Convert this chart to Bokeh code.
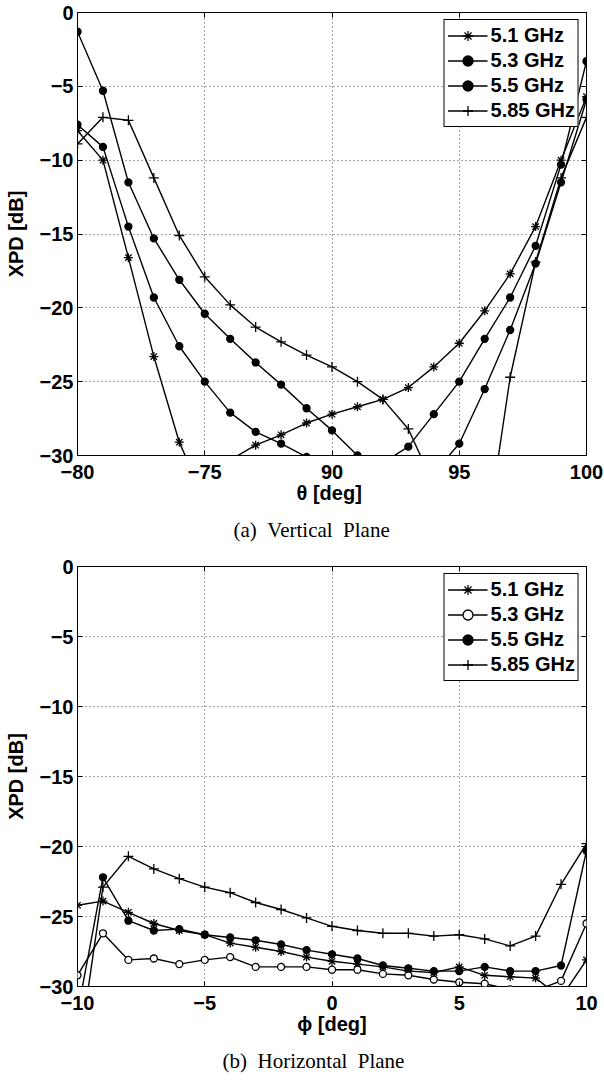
from bokeh.plotting import figure
from bokeh.models import Range1d, LinearAxis, FixedTicker, Legend, LegendItem, Title
from bokeh.layouts import column
from bokeh.embed import file_html
from bokeh.resources import INLINE

# ---------------- data: (a) vertical plane ----------------
theta = [80, 81, 82, 83, 84, 85, 86, 87, 88, 89, 90, 91, 92, 93, 94, 95, 96, 97, 98, 99, 100]
theta_tick_values = [80, 85, 90, 95, 100]
theta_tick_labels = ["\u221280", "\u221275", "90", "95", "100"]
v_51 = [-8.0, -10.0, -16.6, -23.3, -29.1, -33.0, -30.3, -29.3, -28.6, -27.8, -27.2, -26.7, -26.2, -25.4, -24.0, -22.4, -20.2, -17.7, -14.5, -10.0, -5.7]
v_53 = [-1.3, -5.3, -11.5, -15.3, -18.1, -20.4, -22.1, -23.7, -25.2, -26.8, -28.3, -30.0, -30.5, -29.4, -27.2, -25.0, -22.1, -19.3, -15.8, -10.3, -3.3]
v_55 = [-7.6, -9.1, -14.5, -19.3, -22.6, -25.0, -27.1, -28.4, -29.2, -30.1, -31.0, -31.8, -32.3, -32.0, -31.2, -29.2, -25.5, -21.5, -17.0, -11.5, -5.9]
v_585 = [-8.9, -7.1, -7.3, -11.2, -15.1, -17.9, -19.8, -21.3, -22.3, -23.2, -24.0, -25.0, -26.2, -28.2, -32.0, -35.0, -36.3, -24.7, -16.9, -11.2, -7.1]

# ---------------- data: (b) horizontal plane ----------------
phi = [-10, -9, -8, -7, -6, -5, -4, -3, -2, -1, 0, 1, 2, 3, 4, 5, 6, 7, 8, 9, 10]
phi_tick_values = [-10, -5, 0, 5, 10]
phi_tick_labels = ["\u221210", "\u22125", "0", "5", "10"]
h_51 = [-24.2, -23.9, -24.7, -25.5, -26.0, -26.3, -26.9, -27.2, -27.5, -27.9, -28.2, -28.4, -28.6, -28.9, -29.0, -28.6, -29.2, -29.3, -29.4, -30.8, -28.1]
h_53 = [-29.2, -26.2, -28.1, -28.0, -28.4, -28.1, -27.9, -28.6, -28.6, -28.6, -28.8, -28.8, -29.1, -29.2, -29.5, -29.7, -29.8, -30.2, -30.3, -29.6, -25.5]
h_55 = [-31.9, -22.2, -25.3, -26.0, -25.9, -26.3, -26.5, -26.7, -27.0, -27.4, -27.7, -28.0, -28.5, -28.7, -28.9, -28.9, -28.6, -28.9, -28.9, -28.5, -20.3]
h_585 = [-35.4, -22.9, -20.7, -21.6, -22.3, -22.9, -23.3, -24.0, -24.5, -25.1, -25.7, -26.0, -26.2, -26.2, -26.4, -26.3, -26.6, -27.1, -26.4, -22.7, -19.8]

y_tick_values = [0, -5, -10, -15, -20, -25, -30]
y_tick_labels = ["0", "\u22125", "\u221210", "\u221215", "\u221220", "\u221225", "\u221230"]
series_labels = ["5.1 GHz", "5.3 GHz", "5.5 GHz", "5.85 GHz"]

FONT = "Liberation Sans"


def style_axis(ax, labels_visible=True):
    ax.axis_line_color = None
    ax.major_tick_in = 5
    ax.major_tick_out = 0
    ax.major_tick_line_color = "black"
    ax.major_tick_line_width = 1
    ax.minor_tick_line_color = None
    if labels_visible:
        ax.major_label_text_font = FONT
        ax.major_label_text_font_style = "bold"
        ax.major_label_text_font_size = "20px"
        ax.major_label_text_color = "black"
        ax.axis_label_text_font = FONT
        ax.axis_label_text_font_style = "bold"
        ax.axis_label_text_font_size = "20px"
        ax.axis_label_text_color = "black"
    else:
        ax.major_label_text_font_size = "1px"
        ax.major_label_text_color = None
        ax.major_label_standoff = 0


def make_panel(xs, series, markers, xlim, xticks, xlabels, xlabel, caption,
               cap_offset, height, frame_h, top):
    bottom = height - top - frame_h
    p = figure(width=604, height=height, x_range=Range1d(*xlim), y_range=Range1d(-30, 0),
               output_backend="svg", toolbar_location=None,
               min_border_left=77, min_border_right=18, min_border_top=top,
               min_border_bottom=bottom)
    p.outline_line_color = "black"
    p.outline_line_width = 1
    p.background_fill_color = "white"
    p.border_fill_color = "white"

    p.xaxis.ticker = FixedTicker(ticks=xticks)
    p.xaxis.major_label_overrides = dict(zip(xticks, xlabels))
    p.yaxis.ticker = FixedTicker(ticks=y_tick_values)
    p.yaxis.major_label_overrides = dict(zip(y_tick_values, y_tick_labels))
    for ax in p.xaxis:
        style_axis(ax)
        ax.axis_label = xlabel
        ax.major_label_standoff = 9
        ax.axis_label_standoff = 0
    for ax in p.yaxis:
        style_axis(ax)
        ax.axis_label = "XPD [dB]"
        ax.major_label_standoff = 4
        ax.axis_label_standoff = 10

    right = LinearAxis(ticker=FixedTicker(ticks=y_tick_values))
    style_axis(right, labels_visible=False)
    p.add_layout(right, "right")
    above = LinearAxis(ticker=FixedTicker(ticks=xticks))
    style_axis(above, labels_visible=False)
    p.add_layout(above, "above")

    for g in (p.xgrid, p.ygrid):
        g.grid_line_color = "#333333"
        g.grid_line_dash = "1 3"
        g.grid_line_width = 1
        g.grid_line_alpha = 0.9

    items = []
    for ys, (mk, fill, size), lab in zip(series, markers, series_labels):
        lr = p.line(xs, ys, line_color="black", line_width=1.4)
        sr = p.scatter(xs, ys, marker=mk, size=size, line_color="black",
                       fill_color=fill, line_width=1.3)
        items.append(LegendItem(label=lab, renderers=[lr, sr]))

    leg = Legend(items=items, location="top_right")
    leg.label_text_font = FONT
    leg.label_text_font_style = "bold"
    leg.label_text_font_size = "20px"
    leg.label_text_color = "black"
    leg.border_line_color = "black"
    leg.border_line_width = 1
    leg.border_line_alpha = 1
    leg.padding = 3
    leg.spacing = 0
    leg.margin = 7
    leg.glyph_width = 40
    leg.glyph_height = 25
    leg.label_height = 25
    leg.label_standoff = 3
    p.add_layout(leg)

    t = Title(text=caption, text_font="Liberation Serif", text_font_style="normal",
              text_font_size="21px", text_color="black", align="left",
              offset=cap_offset, standoff=18)
    p.add_layout(t, "below")
    return p


NB = "\u00a0"
p1 = make_panel(theta, [v_51, v_53, v_55, v_585],
                [("asterisk", "black", 9), ("circle", "black", 7),
                 ("circle", "black", 7), ("cross", "black", 10)],
                (80, 100), theta_tick_values, theta_tick_labels,
                "\u03b8  [deg]", "(a)" + NB * 2 + "Vertical" + NB * 2 + "Plane",
                156, 550, 443, 12)
p2 = make_panel(phi, [h_51, h_53, h_55, h_585],
                [("asterisk", "black", 9), ("circle", "white", 7),
                 ("circle", "black", 7), ("cross", "black", 10)],
                (-10, 10), phi_tick_values, phi_tick_labels,
                "\u03d5 [deg]", "(b)" + NB * 2 + "Horizontal" + NB * 2 + "Plane",
                145, 531, 425, 16)

layout = column(p1, p2, spacing=0)
open("out.html", "w").write(file_html(layout, INLINE))
